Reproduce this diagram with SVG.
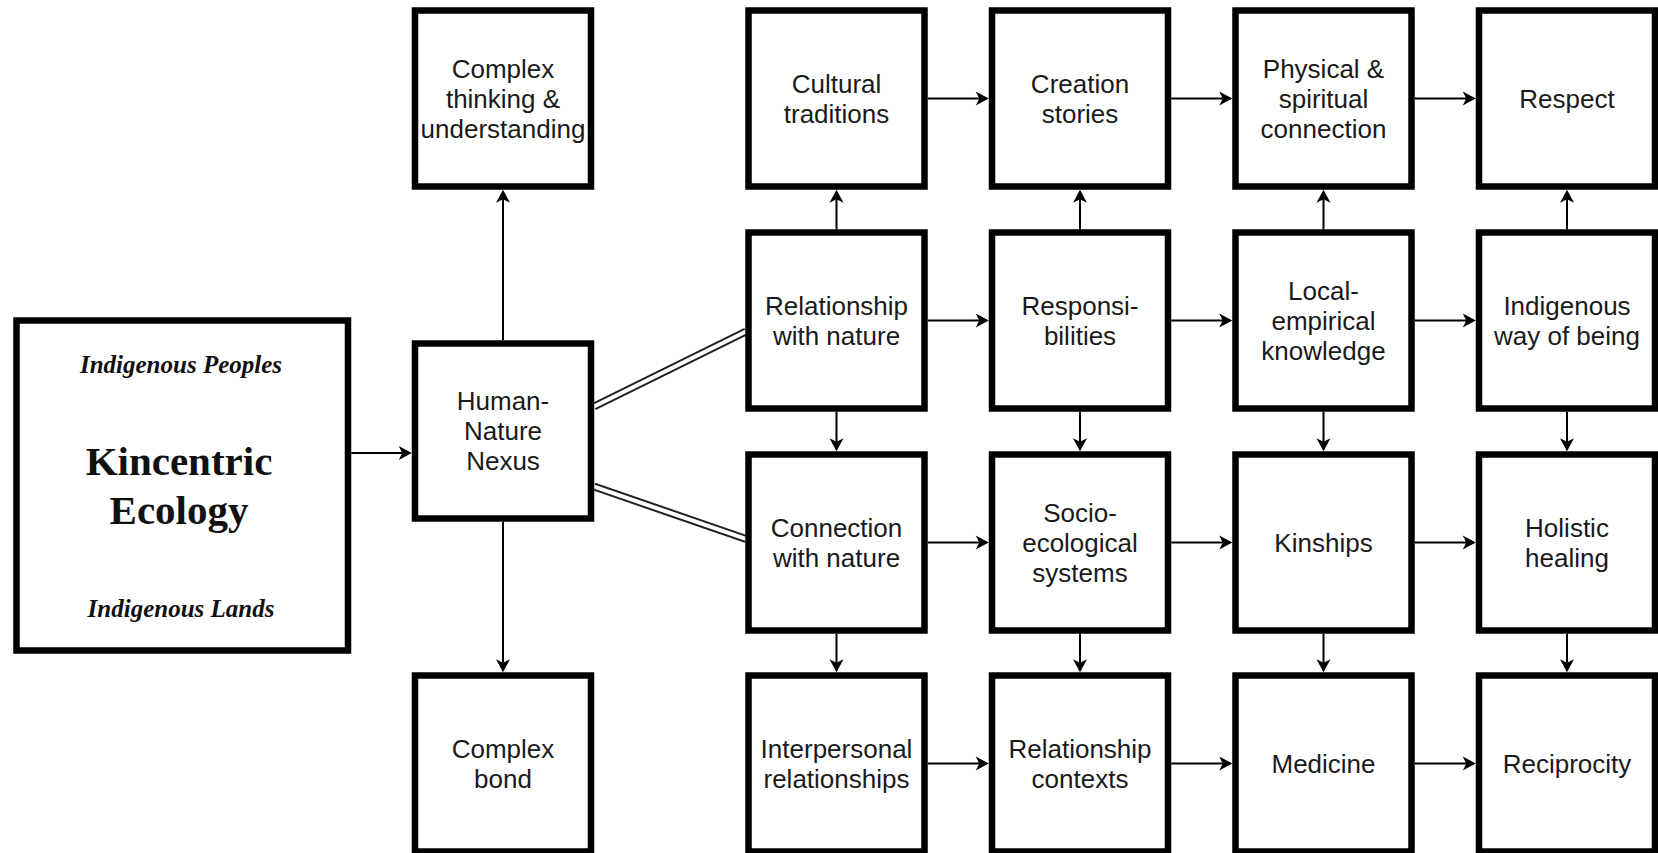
<svg xmlns="http://www.w3.org/2000/svg" width="1658" height="853" viewBox="0 0 1658 853">
<style>
.box{fill:#fff;stroke:#000;stroke-width:6.5}
.t{font-family:"Liberation Sans",Arial,sans-serif;font-size:26px;fill:#1a1a1a;text-anchor:middle}
.s{font-family:"Liberation Serif","Times New Roman",serif;fill:#111;text-anchor:middle;font-weight:bold}
.a{fill:none;stroke:#000;stroke-width:2}
.dl{fill:none;stroke:#222;stroke-width:8}
.dw{fill:none;stroke:#fff;stroke-width:4}
</style>
<defs>
<marker id="ah" markerUnits="userSpaceOnUse" viewBox="-14 -8 16 16" refX="-2" refY="0" markerWidth="16" markerHeight="16" orient="auto">
<path d="M0,0 L-13,-7 L-9.5,0 L-13,7 Z" fill="#000"/>
</marker>
</defs>
<rect width="1658" height="853" fill="#fff"/>

<g id="connectors">
<path class="a" marker-end="url(#ah)" d="M351.25,453 H409.75"/>
<path class="a" marker-end="url(#ah)" d="M503,340.25 V191.75"/>
<path class="a" marker-end="url(#ah)" d="M503,521.75 V670.25"/>
<path class="a" marker-end="url(#ah)" d="M927.75,98.5 H986.75"/>
<path class="a" marker-end="url(#ah)" d="M1171.25,98.5 H1230.25"/>
<path class="a" marker-end="url(#ah)" d="M1414.75,98.5 H1473.75"/>
<path class="a" marker-end="url(#ah)" d="M927.75,320.5 H986.75"/>
<path class="a" marker-end="url(#ah)" d="M1171.25,320.5 H1230.25"/>
<path class="a" marker-end="url(#ah)" d="M1414.75,320.5 H1473.75"/>
<path class="a" marker-end="url(#ah)" d="M927.75,542.5 H986.75"/>
<path class="a" marker-end="url(#ah)" d="M1171.25,542.5 H1230.25"/>
<path class="a" marker-end="url(#ah)" d="M1414.75,542.5 H1473.75"/>
<path class="a" marker-end="url(#ah)" d="M927.75,763.5 H986.75"/>
<path class="a" marker-end="url(#ah)" d="M1171.25,763.5 H1230.25"/>
<path class="a" marker-end="url(#ah)" d="M1414.75,763.5 H1473.75"/>
<path class="a" marker-end="url(#ah)" d="M836.5,229.25 V191.75"/>
<path class="a" marker-end="url(#ah)" d="M1080,229.25 V191.75"/>
<path class="a" marker-end="url(#ah)" d="M1323.5,229.25 V191.75"/>
<path class="a" marker-end="url(#ah)" d="M1567,229.25 V191.75"/>
<path class="a" marker-end="url(#ah)" d="M836.5,411.75 V449.25"/>
<path class="a" marker-end="url(#ah)" d="M1080,411.75 V449.25"/>
<path class="a" marker-end="url(#ah)" d="M1323.5,411.75 V449.25"/>
<path class="a" marker-end="url(#ah)" d="M1567,411.75 V449.25"/>
<path class="a" marker-end="url(#ah)" d="M836.5,633.75 V670.25"/>
<path class="a" marker-end="url(#ah)" d="M1080,633.75 V670.25"/>
<path class="a" marker-end="url(#ah)" d="M1323.5,633.75 V670.25"/>
<path class="a" marker-end="url(#ah)" d="M1567,633.75 V670.25"/>
<path class="dl" d="M594,406.5 L746,331.5"/>
<path class="dw" d="M592,407.5 L748,330.5"/>
<path class="dl" d="M594,486.5 L746,539"/>
<path class="dw" d="M592,485.8 L748,539.7"/>
</g>

<g id="kincentric">
<rect class="box" x="16.5" y="320.5" width="331.5" height="330"/>
<text class="s" x="181" y="373" font-size="25" font-style="italic">Indigenous Peoples</text>
<text class="s" x="179" y="475" font-size="41">Kincentric</text>
<text class="s" x="179" y="524" font-size="41">Ecology</text>
<text class="s" x="181" y="617" font-size="25" font-style="italic">Indigenous Lands</text>
</g>

<g id="human-nature">
<rect class="box" x="415" y="343.5" width="176" height="175"/>
<text class="t" x="503" y="410.3">Human-</text>
<text class="t" x="503" y="440.3">Nature</text>
<text class="t" x="503" y="470.3">Nexus</text>
</g>

<g id="complex-thinking">
<rect class="box" x="415" y="10.5" width="176" height="176"/>
<text class="t" x="503" y="78">Complex</text>
<text class="t" x="503" y="108">thinking &amp;</text>
<text class="t" x="503" y="138">understanding</text>
</g>

<g id="complex-bond">
<rect class="box" x="415" y="675.5" width="176" height="176"/>
<text class="t" x="503" y="757.8">Complex</text>
<text class="t" x="503" y="787.8">bond</text>
</g>

<g id="cultural-traditions">
<rect class="box" x="748.5" y="10.5" width="176" height="176"/>
<text class="t" x="836.5" y="92.8">Cultural</text>
<text class="t" x="836.5" y="122.8">traditions</text>
</g>
<g id="creation-stories">
<rect class="box" x="992" y="10.5" width="176" height="176"/>
<text class="t" x="1080" y="92.8">Creation</text>
<text class="t" x="1080" y="122.8">stories</text>
</g>
<g id="physical-spiritual">
<rect class="box" x="1235.5" y="10.5" width="176" height="176"/>
<text class="t" x="1323.5" y="78">Physical &amp;</text>
<text class="t" x="1323.5" y="108">spiritual</text>
<text class="t" x="1323.5" y="138">connection</text>
</g>
<g id="respect">
<rect class="box" x="1479" y="10.5" width="176" height="176"/>
<text class="t" x="1567" y="107.8">Respect</text>
</g>

<g id="relationship-nature">
<rect class="box" x="748.5" y="232.5" width="176" height="176"/>
<text class="t" x="836.5" y="314.8">Relationship</text>
<text class="t" x="836.5" y="344.8">with nature</text>
</g>
<g id="responsibilities">
<rect class="box" x="992" y="232.5" width="176" height="176"/>
<text class="t" x="1080" y="314.8">Responsi-</text>
<text class="t" x="1080" y="344.8">bilities</text>
</g>
<g id="local-empirical">
<rect class="box" x="1235.5" y="232.5" width="176" height="176"/>
<text class="t" x="1323.5" y="300">Local-</text>
<text class="t" x="1323.5" y="330">empirical</text>
<text class="t" x="1323.5" y="360">knowledge</text>
</g>
<g id="indigenous-way">
<rect class="box" x="1479" y="232.5" width="176" height="176"/>
<text class="t" x="1567" y="314.8">Indigenous</text>
<text class="t" x="1567" y="344.8">way of being</text>
</g>

<g id="connection-nature">
<rect class="box" x="748.5" y="454.5" width="176" height="176"/>
<text class="t" x="836.5" y="536.8">Connection</text>
<text class="t" x="836.5" y="566.8">with nature</text>
</g>
<g id="socio-ecological">
<rect class="box" x="992" y="454.5" width="176" height="176"/>
<text class="t" x="1080" y="522">Socio-</text>
<text class="t" x="1080" y="552">ecological</text>
<text class="t" x="1080" y="582">systems</text>
</g>
<g id="kinships">
<rect class="box" x="1235.5" y="454.5" width="176" height="176"/>
<text class="t" x="1323.5" y="551.8">Kinships</text>
</g>
<g id="holistic-healing">
<rect class="box" x="1479" y="454.5" width="176" height="176"/>
<text class="t" x="1567" y="536.8">Holistic</text>
<text class="t" x="1567" y="566.8">healing</text>
</g>

<g id="interpersonal">
<rect class="box" x="748.5" y="675.5" width="176" height="176"/>
<text class="t" x="836.5" y="757.8">Interpersonal</text>
<text class="t" x="836.5" y="787.8">relationships</text>
</g>
<g id="relationship-contexts">
<rect class="box" x="992" y="675.5" width="176" height="176"/>
<text class="t" x="1080" y="757.8">Relationship</text>
<text class="t" x="1080" y="787.8">contexts</text>
</g>
<g id="medicine">
<rect class="box" x="1235.5" y="675.5" width="176" height="176"/>
<text class="t" x="1323.5" y="772.8">Medicine</text>
</g>
<g id="reciprocity">
<rect class="box" x="1479" y="675.5" width="176" height="176"/>
<text class="t" x="1567" y="772.8">Reciprocity</text>
</g>
</svg>
